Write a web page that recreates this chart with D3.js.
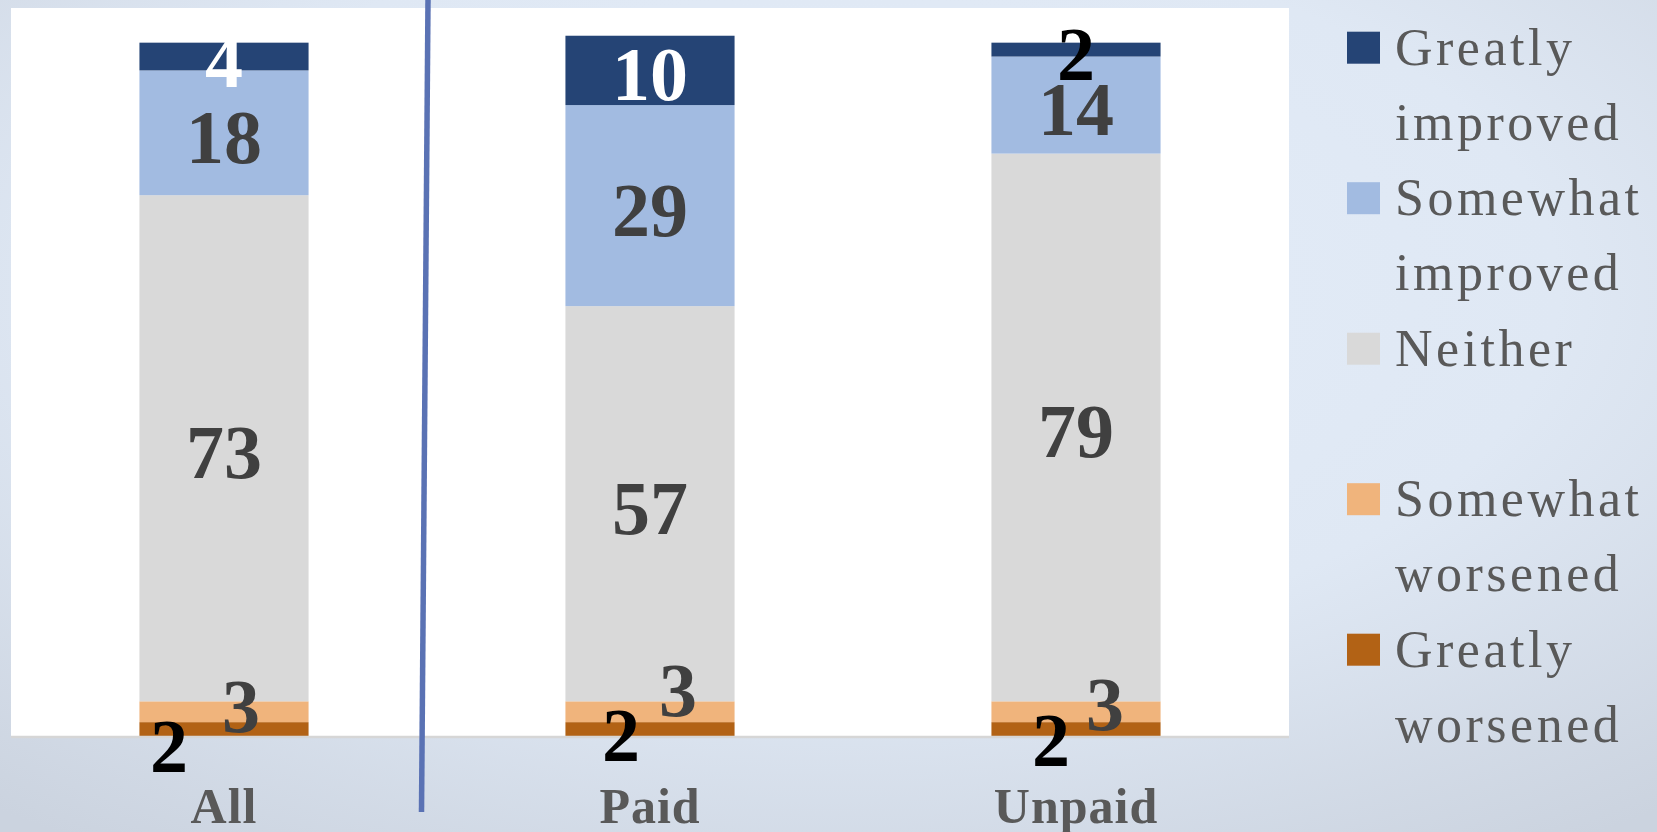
<!DOCTYPE html>
<html>
<head>
<meta charset="utf-8">
<script src="https://cdn.jsdelivr.net/npm/d3@7"></script>
<style>
   html, body { margin: 0; padding: 0; overflow: hidden; }
   .valueLabel { font-family: "Liberation Serif", serif; font-weight: bold; font-size: 76px; }
   .category { font-family: "Liberation Serif", serif; font-weight: bold; font-size: 50px; fill: #595959; letter-spacing: 1px; }
   .legend { font-family: "Liberation Serif", serif; font-size: 52px; fill: #595959; letter-spacing: 3.5px; }
</style>
</head>
<body>
<div id="chart"></div>
<script>
const width = 1657;
const height = 832;

// data (percent)
const groups = ["All", "Paid", "Unpaid"];
const seriesKeys = ["Greatly worsened", "Somewhat worsened", "Neither", "Somewhat improved", "Greatly improved"];
const greatlyWorsened  = [2, 2, 2];
const somewhatWorsened = [3, 3, 3];
const neither          = [73, 57, 79];
const somewhatImproved = [18, 29, 14];
const greatlyImproved  = [4, 10, 2];

const colors = {
   "Greatly worsened":  "#b26215",
   "Somewhat worsened": "#f0b47c",
   "Neither":           "#d9d9d9",
   "Somewhat improved": "#a2bbe1",
   "Greatly improved":  "#254475"
};

// legend order, top to bottom (blank slot after Neither)
const legendItems = [
   {key: "Greatly improved",  lines: ["Greatly", "improved"]},
   {key: "Somewhat improved", lines: ["Somewhat", "improved"]},
   {key: "Neither",           lines: ["Neither", ""]},
   {key: "Somewhat worsened", lines: ["Somewhat", "worsened"]},
   {key: "Greatly worsened",  lines: ["Greatly", "worsened"]}
];

// hand-placed labels on the slide: [dx, dy] in px, plus colour
const labelNudge = {
   "All|Greatly worsened":     [-55, 13],
   "All|Somewhat worsened":    [17, -10],
   "Paid|Greatly worsened":    [-29, 2],
   "Paid|Somewhat worsened":   [28, -26],
   "Unpaid|Greatly worsened":  [-25, 7],
   "Unpaid|Somewhat worsened": [29, -12]
};
const labelColor = {
   "All|Greatly worsened": "#000",
   "Paid|Greatly worsened": "#000",
   "Unpaid|Greatly worsened": "#000",
   "Unpaid|Greatly improved": "#000",
   "All|Greatly improved": "#fff",
   "Paid|Greatly improved": "#fff"
};

const rows = groups.map((g, i) => ({
   group: g,
   "Greatly worsened": greatlyWorsened[i],
   "Somewhat worsened": somewhatWorsened[i],
   "Neither": neither[i],
   "Somewhat improved": somewhatImproved[i],
   "Greatly improved": greatlyImproved[i]
}));

const plot = {left: 11, right: 1289, top: 8, bottom: 736};

const svg = d3.select("#chart").append("svg")
   .attr("width", width)
   .attr("height", height);

// slide background
const defs = svg.append("defs");
const grad = defs.append("radialGradient")
   .attr("id", "bg")
   .attr("cx", "50%").attr("cy", "35%").attr("r", "80%");
grad.append("stop").attr("offset", "0%").attr("stop-color", "#e4edf9");
grad.append("stop").attr("offset", "55%").attr("stop-color", "#dfe8f4");
grad.append("stop").attr("offset", "100%").attr("stop-color", "#cbd3df");

svg.append("rect")
   .attr("width", width).attr("height", height)
   .style("fill", "url(#bg)");

// white plot area
svg.append("rect")
   .attr("x", plot.left).attr("y", plot.top)
   .attr("width", plot.right - plot.left)
   .attr("height", plot.bottom - plot.top)
   .style("fill", "#fff");

const x = d3.scaleBand()
   .domain(groups)
   .range([plot.left, plot.right])
   .paddingInner(0.603)
   .paddingOuter(0.3015);

const y = d3.scaleLinear()
   .domain([0, 105])
   .range([plot.bottom, plot.top]);

const stacked = d3.stack().keys(seriesKeys)(rows);

const layers = svg.selectAll("g.layer")
   .data(stacked)
   .enter()
   .append("g")
   .attr("class", "layer")
   .style("fill", d => colors[d.key]);

layers.selectAll("rect")
   .data(d => d)
   .enter()
   .append("rect")
   .attr("x", d => x(d.data.group))
   .attr("y", d => y(d[1]))
   .attr("width", x.bandwidth())
   .attr("height", d => y(d[0]) - y(d[1]));

// category axis line
svg.append("line")
   .attr("x1", plot.left).attr("x2", plot.right)
   .attr("y1", y(0) + 1).attr("y2", y(0) + 1)
   .style("stroke", "#d6d6d6")
   .style("stroke-width", 2.5);

// divider between All and Paid
const gap = x("Paid") - (x("All") + x.bandwidth());
const divX = x("All") + x.bandwidth() + gap / 2;
svg.append("line")
   .attr("x1", divX - 9).attr("y1", 0)
   .attr("x2", divX - 15.5).attr("y2", 812)
   .style("stroke", "#5a72b4")
   .style("stroke-width", 5.5);

// value labels
stacked.forEach(layer => {
   layer.forEach(d => {
      const id = d.data.group + "|" + layer.key;
      const nudge = labelNudge[id] || [0, 0];
      svg.append("text")
         .attr("class", "valueLabel")
         .attr("x", x(d.data.group) + x.bandwidth() / 2 + nudge[0])
         .attr("y", y((d[0] + d[1]) / 2) + 30 + nudge[1])
         .style("text-anchor", "middle")
         .style("fill", labelColor[id] || "#404040")
         .text(d[1] - d[0]);
   });
});

// category labels
svg.selectAll("text.category")
   .data(groups)
   .enter()
   .append("text")
   .attr("class", "category")
   .attr("x", d => x(d) + x.bandwidth() / 2)
   .attr("y", 823)
   .style("text-anchor", "middle")
   .text(d => d);

// legend
const legTop = 31.7;
const legStep = 150.5;
const legend = svg.selectAll("g.legendItem")
   .data(legendItems)
   .enter()
   .append("g")
   .attr("class", "legendItem")
   .attr("transform", (d, i) => `translate(1347, ${legTop + i * legStep})`);

legend.append("rect")
   .attr("width", 33).attr("height", 32)
   .style("fill", d => colors[d.key]);

legend.append("text")
   .attr("class", "legend")
   .attr("x", 48).attr("y", 33)
   .text(d => d.lines[0]);

legend.append("text")
   .attr("class", "legend")
   .attr("x", 48).attr("y", 108)
   .text(d => d.lines[1]);
</script>
</body>
</html>
